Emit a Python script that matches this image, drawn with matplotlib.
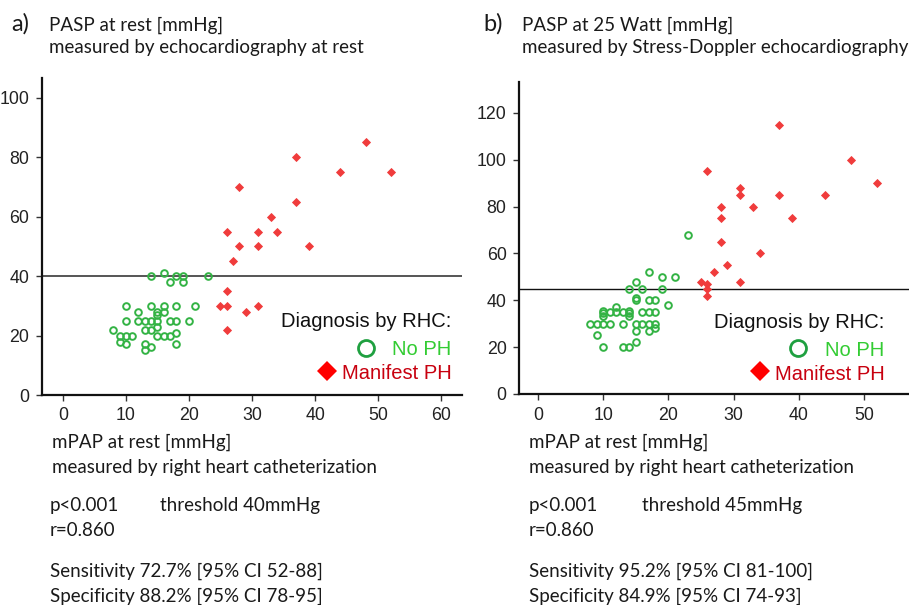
import matplotlib
matplotlib.use("Agg")
import matplotlib.pyplot as plt

# a) PASP at rest vs mPAP (RHC)
a_noph_x = [14, 16, 18, 19, 17, 19, 23,
            10, 14, 16, 18, 21, 12, 15, 16, 15,
            10, 12, 13, 14, 15, 17, 18, 20, 15,
            13, 14, 8, 9, 10, 11, 15, 16, 17, 18,
            9, 10, 13, 13, 14, 18]
a_noph_y = [40, 41, 40, 40, 38, 38, 40,
            30, 30, 30, 30, 30, 28, 28, 28, 27,
            25, 25, 25, 25, 25, 25, 25, 25, 23,
            22, 22, 22, 20, 20, 20, 20, 20, 20, 21,
            18, 17, 17, 15, 16, 17]
a_ph_x = [48, 37, 44, 52, 28, 37, 33, 26, 31, 34, 28, 31, 39, 27, 26, 25, 26, 29, 31, 26]
a_ph_y = [85, 80, 75, 75, 70, 65, 60, 55, 55, 55, 50, 50, 50, 45, 35, 30, 30, 28, 30, 22]

# b) PASP at 25 Watt vs mPAP (RHC)
b_noph_x = [23, 17, 19, 21, 15, 14, 16, 19, 15, 15, 17, 18, 20, 12,
            10, 10, 10, 11, 12, 13, 14, 14, 14, 16, 17, 18,
            8, 9, 10, 11, 13, 15, 16, 17, 18,
            18, 15, 17, 9, 10, 13, 14, 15]
b_noph_y = [68, 52, 50, 50, 48, 45, 45, 45, 41, 40, 40, 40, 38, 37,
            35.5, 34.5, 33.5, 35, 35, 35, 35.5, 34.5, 33.5, 35, 35, 35,
            30, 30, 30, 30, 30, 30, 30, 30, 30,
            28, 27, 27, 25, 20, 20, 20, 22]
b_ph_x = [37, 48, 26, 52, 31, 31, 37, 44, 28, 33, 28, 39, 28, 34, 29, 27, 25, 26, 26, 26, 31]
b_ph_y = [115, 100, 95, 90, 88, 85, 85, 85, 80, 80, 75, 75, 65, 60, 55, 52, 48, 47, 45, 42, 48]

W, H = 909, 605
fig = plt.figure(figsize=(W / 100, H / 100), dpi=100)

def fx(x):
    return x / W

def fy(y):
    return 1 - y / H

green = "#33b344"
red = "#f03c3c"
txt = "#1a1a1a"
body = ["Lato", "DejaVu Sans"]
arial = ["Liberation Sans", "DejaVu Sans"]

def make_axes(box, xlim, ylim, xt, yt):
    l, t, r, b = box
    ax = fig.add_axes([fx(l), fy(b), fx(r - l), (b - t) / H])
    ax.set_xlim(*xlim)
    ax.set_ylim(*ylim)
    ax.set_xticks(xt)
    ax.set_yticks(yt)
    for s in ["top", "right"]:
        ax.spines[s].set_visible(False)
    for s in ["left", "bottom"]:
        ax.spines[s].set_linewidth(1.6)
        ax.spines[s].set_color("#111111")
    ax.tick_params(length=4, width=1, color="#333333", labelsize=12.8,
                   labelcolor="#222222", pad=5)
    for lab in ax.get_xticklabels() + ax.get_yticklabels():
        lab.set_family(arial)
    return ax

axa = make_axes((42, 78, 462, 395), (-3.3, 63.3), (0, 106.7), range(0, 61, 10), range(0, 101, 20))
axa.axhline(40, color="#555555", lw=1.4, zorder=1)
axa.plot(a_noph_x, a_noph_y, "o", ms=4.8, mfc="none", mec=green, mew=1.4, clip_on=False)
axa.plot(a_ph_x, a_ph_y, "D", ms=4.0, mfc=red, mec=red, mew=0.6, clip_on=False)

axb = make_axes((519, 82, 909, 394), (-2.9, 56.9), (0, 133.2), range(0, 51, 10), range(0, 121, 20))
axb.axhline(45, color="#111111", lw=1.0, zorder=1)
axb.plot(b_noph_x, b_noph_y, "o", ms=4.8, mfc="none", mec=green, mew=1.4, clip_on=False)
axb.plot(b_ph_x, b_ph_y, "D", ms=4.0, mfc=red, mec=red, mew=0.6, clip_on=False)

# legends
def legend(xr, circ, diam, ytop):
    fig.text(fx(xr), fy(ytop), "Diagnosis by RHC:", family=arial, fontsize=14.5,
             color="#111111", ha="right", va="baseline")
    fig.text(fx(xr), fy(ytop + 28), "No PH", family=arial, fontsize=14.5,
             color="#33cc33", ha="right", va="baseline")
    fig.text(fx(xr), fy(ytop + 52), "Manifest PH", family=arial, fontsize=14.5,
             color="#c8000f", ha="right", va="baseline")
    fig.add_artist(plt.Line2D([fx(circ[0])], [fy(circ[1])], marker="o", ms=11.5,
                              mfc="none", mec="#1fa040", mew=2.0, transform=fig.transFigure))
    fig.add_artist(plt.Line2D([fx(diam[0])], [fy(diam[1])], marker="D", ms=10,
                              mfc="#ff0000", mec="#ff0000", mew=0, transform=fig.transFigure))

legend(451.5, (366, 348), (327, 371), 327)
legend(884.5, (798, 348), (760, 371), 328)

# titles and captions
def caption(lines):
    for x, y, s in lines:
        fig.text(fx(x), fy(y), s, family=body, fontsize=13.5, color=txt, va="baseline")

fig.text(fx(11), fy(31), "a)", family=body, fontsize=17, color=txt, va="baseline")
fig.text(fx(483), fy(31), "b)", family=body, fontsize=17, color=txt, va="baseline")

caption([
    (49, 30.5, "PASP at rest [mmHg]"),
    (49, 53.5, "measured by echocardiography at rest"),
    (52.5, 448, "mPAP at rest [mmHg]"),
    (52.5, 472.5, "measured by right heart catheterization"),
    (50, 510.5, "p<0.001"),
    (160, 510.5, "threshold 40mmHg"),
    (50, 536.5, "r=0.860"),
    (50, 577, "Sensitivity 72.7% [95% CI 52-88]"),
    (50, 601.5, "Specificity 88.2% [95% CI 78-95]"),
])
caption([
    (522, 30.5, "PASP at 25 Watt [mmHg]"),
    (522, 53.5, "measured by Stress-Doppler echocardiography"),
    (529, 448, "mPAP at rest [mmHg]"),
    (529, 472.5, "measured by right heart catheterization"),
    (529, 510.5, "p<0.001"),
    (641.5, 510.5, "threshold 45mmHg"),
    (529, 536.5, "r=0.860"),
    (529, 577, "Sensitivity 95.2% [95% CI 81-100]"),
    (529, 601.5, "Specificity 84.9% [95% CI 74-93]"),
])

fig.savefig("out.png", dpi=100)
